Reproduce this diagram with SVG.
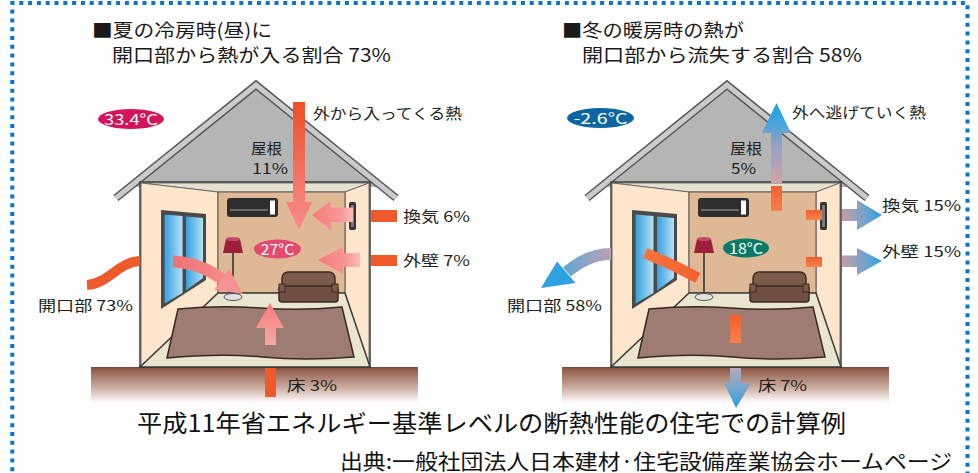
<svg xmlns="http://www.w3.org/2000/svg" width="978" height="473" viewBox="0 0 978 473">
<style>
  .lbl{font-family:"Noto Sans CJK JP","Noto Sans",sans-serif;font-size:14.5px;fill:#231f20;}
  .ttl{font-family:"Noto Sans CJK JP","Noto Sans",sans-serif;font-size:18.5px;fill:#1a1a1a;}
  .big{font-family:"Noto Sans CJK JP","Noto Sans",sans-serif;fill:#111;}
  .tmp{font-family:"Noto Sans CJK JP","Noto Sans",sans-serif;font-size:15px;fill:#fff;text-anchor:middle;}
  .out{fill:#ef5a2a;}
  .ln{stroke:#3a3a3a;stroke-width:1.5;}
</style>
<defs>
  <linearGradient id="ground" x1="0" y1="0" x2="0" y2="1">
    <stop offset="0" stop-color="#7c4535"/>
    <stop offset="0.08" stop-color="#93604e"/>
    <stop offset="0.55" stop-color="#c9a99c"/>
    <stop offset="1" stop-color="#ffffff"/>
  </linearGradient>
  <linearGradient id="glass" x1="0" y1="0" x2="1" y2="0">
    <stop offset="0" stop-color="#3a9edc"/>
    <stop offset="0.45" stop-color="#6dbde9"/>
    <stop offset="1" stop-color="#b4dff6"/>
  </linearGradient>
  <linearGradient id="gRoofIn" gradientUnits="userSpaceOnUse" x1="0" y1="102" x2="0" y2="230">
    <stop offset="0" stop-color="#ee5026"/>
    <stop offset="0.6" stop-color="#f37566"/>
    <stop offset="1" stop-color="#f68d8d"/>
  </linearGradient>
  <linearGradient id="gVentIn" gradientUnits="userSpaceOnUse" x1="312" y1="0" x2="356" y2="0">
    <stop offset="0" stop-color="#f47a7a"/>
    <stop offset="0.6" stop-color="#f69494"/>
    <stop offset="1" stop-color="#fac4ba"/>
  </linearGradient>
  <linearGradient id="gWallIn" gradientUnits="userSpaceOnUse" x1="318" y1="0" x2="362" y2="0">
    <stop offset="0" stop-color="#f47a7a"/>
    <stop offset="0.6" stop-color="#f69494"/>
    <stop offset="1" stop-color="#fac4ba"/>
  </linearGradient>
  <linearGradient id="gOpenIn" gradientUnits="userSpaceOnUse" x1="173" y1="0" x2="244" y2="0">
    <stop offset="0" stop-color="#f17272"/>
    <stop offset="1" stop-color="#f69595"/>
  </linearGradient>
  <linearGradient id="gFloorIn" gradientUnits="userSpaceOnUse" x1="0" y1="345" x2="0" y2="303">
    <stop offset="0" stop-color="#f8a8a2"/>
    <stop offset="1" stop-color="#f47c7c"/>
  </linearGradient>
  <linearGradient id="gOrange" x1="0" y1="0" x2="0" y2="1">
    <stop offset="0" stop-color="#f05f2c"/>
    <stop offset="1" stop-color="#f5824e"/>
  </linearGradient>
  <linearGradient id="gOrangeH" gradientUnits="userSpaceOnUse" x1="645" y1="0" x2="698" y2="0">
    <stop offset="0" stop-color="#f5763e"/>
    <stop offset="1" stop-color="#f0602c"/>
  </linearGradient>
  <linearGradient id="gBlueUp" gradientUnits="userSpaceOnUse" x1="0" y1="183" x2="0" y2="103">
    <stop offset="0" stop-color="#d4a2a8"/>
    <stop offset="0.5" stop-color="#8fa0c4"/>
    <stop offset="0.75" stop-color="#45a6de"/>
    <stop offset="1" stop-color="#1a9fe2"/>
  </linearGradient>
  <linearGradient id="gBlueR" gradientUnits="userSpaceOnUse" x1="842" y1="0" x2="882" y2="0">
    <stop offset="0" stop-color="#c29ea8"/>
    <stop offset="0.5" stop-color="#7fa2c8"/>
    <stop offset="1" stop-color="#2ea2e0"/>
  </linearGradient>
  <linearGradient id="gBlueL" gradientUnits="userSpaceOnUse" x1="611" y1="0" x2="541" y2="0">
    <stop offset="0" stop-color="#bba2b4"/>
    <stop offset="0.5" stop-color="#7aa6cc"/>
    <stop offset="1" stop-color="#24a2e2"/>
  </linearGradient>
  <linearGradient id="gBlueD" gradientUnits="userSpaceOnUse" x1="0" y1="368" x2="0" y2="408">
    <stop offset="0" stop-color="#b8a6b6"/>
    <stop offset="0.5" stop-color="#78a6cc"/>
    <stop offset="1" stop-color="#24a2e2"/>
  </linearGradient>

  <g id="house">
    <rect x="91" y="367" width="327" height="36" fill="url(#ground)"/>
    <polygon points="256,89 135,187 377,187" fill="#b5b5b5"/>
    <polyline points="116,198 256,85 396,198" fill="none" stroke="#555" stroke-width="8"/>
    <polyline points="116,198 256,85 396,198" fill="none" stroke="#cacaca" stroke-width="5"/>
    <rect x="140" y="182" width="230" height="185" fill="#fde6cb" class="ln"/>
    <polygon points="141,183 369,183 345,192 218,192" fill="#e5e1d1" stroke="#555" stroke-width="0.8"/>
    <polygon points="141,183 218,192 218,293 141,366" fill="#fde6cb" stroke="#555" stroke-width="0.8"/>
    <polygon points="369,183 345,192 345,293 369,366" fill="#fde6cb" stroke="#555" stroke-width="0.8"/>
    <rect x="218" y="192" width="127" height="101" fill="#dfb896" stroke="#555" stroke-width="1"/>
    <polygon points="218,293 345,293 370,367 140,367" fill="#e9e5cf" class="ln"/>
    <path d="M178,309 Q220,305 260,308 T342,307 L354,357 Q305,361 262,357 T167,358 Z" fill="#9d7d73" stroke="#3a2820" stroke-width="1.5"/>
    <polygon points="161,210 206,214 206,280 161,309" fill="#4a4a4a"/>
    <polygon points="164.5,214.5 182.5,216 182.5,293 164.5,303.5" fill="url(#glass)"/>
    <polygon points="186,216.5 203,218 203,278 186,290.5" fill="url(#glass)"/>
    <rect x="227" y="198" width="51" height="19" rx="3" fill="#2e2e2e"/>
    <rect x="230" y="209" width="38" height="2" fill="#6a6a6a"/>
    <rect x="270" y="200.5" width="5" height="14" fill="#ffffff"/>
    <rect x="349" y="202" width="7" height="28" rx="2" fill="#333"/>
    <rect x="351" y="205" width="3" height="22" fill="#777"/>
    <path d="M226,239 L240,239 L243,253 L223,253 Z" fill="#9e1f3c"/>
    <ellipse cx="233" cy="239" rx="7" ry="2" fill="#c24a66"/>
    <line x1="233" y1="253" x2="233" y2="296" stroke="#333" stroke-width="1.6"/>
    <ellipse cx="233" cy="297" rx="9" ry="3.5" fill="#e2e2e2" stroke="#555" stroke-width="1"/>
    <rect x="282" y="272" width="53" height="22" rx="6" fill="#7b5b4a" stroke="#3a2a22" stroke-width="1.5"/>
    <rect x="279" y="286" width="59" height="16" rx="3" fill="#6f5041" stroke="#3a2a22" stroke-width="1.5"/>
    <rect x="279" y="284" width="6" height="8" fill="#7b5b4a" stroke="#3a2a22" stroke-width="1"/>
    <rect x="332" y="284" width="6" height="8" fill="#7b5b4a" stroke="#3a2a22" stroke-width="1"/>
  </g>
</defs>

<rect width="978" height="473" fill="#ffffff"/>
<path d="M12.3,480 V3 H967.5 V480" fill="none" stroke="#0b74c8" stroke-width="4" stroke-dasharray="4 4.8"/>

<g id="title-summer">
  <text class="ttl" x="92" y="37" textLength="180" lengthAdjust="spacingAndGlyphs">■夏の冷房時(昼)に</text>
  <text class="ttl" x="112" y="62" textLength="279" lengthAdjust="spacingAndGlyphs">開口部から熱が入る割合 73%</text>
</g>
<g id="title-winter">
  <text class="ttl" x="562" y="37" textLength="182" lengthAdjust="spacingAndGlyphs">■冬の暖房時の熱が</text>
  <text class="ttl" x="582" y="62" textLength="280" lengthAdjust="spacingAndGlyphs">開口部から流失する割合 58%</text>
</g>

<g id="house-summer">
  <use href="#house"/>
  <ellipse cx="131" cy="119" rx="33" ry="10" fill="#d4145a"/>
  <text class="tmp" x="131" y="124.5" textLength="54" lengthAdjust="spacingAndGlyphs">33.4°C</text>
  <ellipse cx="277.5" cy="249" rx="23.5" ry="9.5" fill="#e24a6e"/>
  <text class="tmp" x="277.5" y="254.5" textLength="34" lengthAdjust="spacingAndGlyphs">27°C</text>
</g>

<g id="house-winter">
  <use href="#house" transform="translate(471,0)"/>
  <ellipse cx="600.5" cy="118" rx="33.5" ry="10" fill="#0b65a0"/>
  <text class="tmp" x="600.5" y="123.5" textLength="54" lengthAdjust="spacingAndGlyphs">-2.6°C</text>
  <ellipse cx="746" cy="248" rx="23" ry="9.5" fill="#0a7a68"/>
  <text class="tmp" x="746" y="253.5" textLength="34" lengthAdjust="spacingAndGlyphs">18°C</text>
</g>

<g id="connectors">
  <!-- summer: heat entering -->
  <path d="M293,102 H305 V202 H312 L299,230 L286,202 H293 Z" fill="url(#gRoofIn)"/>
  <rect class="out" x="371" y="210" width="26" height="12"/>
  <path d="M353,207.5 H331 V201 L312,215 L331,230 V222 H353 Z" fill="url(#gVentIn)"/>
  <rect class="out" x="371" y="255" width="26" height="11"/>
  <path d="M360,253 H343 V247 L318,260 L343,274 V267 H360 Z" fill="url(#gWallIn)"/>
  <path d="M87,285 C108,284 118,262 140,261" fill="none" stroke="#ef5a2a" stroke-width="10"/>
  <path d="M173,261.5 Q200,263 222,279" fill="none" stroke="url(#gOpenIn)" stroke-width="12"/>
  <polygon points="229,268.5 214.5,289.5 243,294" fill="#f59292"/>
  <rect class="out" x="265" y="368" width="11" height="29"/>
  <path d="M265,345 V328 H256 L270,303 L284,328 H276 V345 Z" fill="url(#gFloorIn)"/>

  <!-- winter: heat escaping -->
  <rect x="771" y="186" width="11" height="25" fill="url(#gOrange)"/>
  <path d="M771,183 V133 H762 L776.5,103 L791,133 H782 V183 Z" fill="url(#gBlueUp)"/>
  <rect x="806" y="210" width="16" height="10" fill="url(#gOrange)"/>
  <path d="M842,209 H857 V200 L882,215 L857,230 V221 H842 Z" fill="url(#gBlueR)"/>
  <rect x="806" y="257" width="16" height="10" fill="url(#gOrange)"/>
  <path d="M842,255.5 H857 V248 L882,261 L857,275 V267 H842 Z" fill="url(#gBlueR)"/>
  <path d="M645,253 Q672,264 698,278" fill="none" stroke="url(#gOrangeH)" stroke-width="11"/>
  <path d="M611,254 Q588,254 567,272" fill="none" stroke="url(#gBlueL)" stroke-width="12"/>
  <polygon points="557,261.5 575.5,283 541,288" fill="#2ca2e0"/>
  <rect x="730" y="315" width="11" height="28" fill="url(#gOrange)"/>
  <path d="M730,368 V383 H724 L736,408 L751,383 H741 V368 Z" fill="url(#gBlueD)"/>
</g>

<g id="labels">
  <text class="lbl" x="313" y="119" textLength="149" lengthAdjust="spacingAndGlyphs">外から入ってくる熱</text>
  <text class="lbl" x="251" y="154" textLength="31" lengthAdjust="spacingAndGlyphs">屋根</text>
  <text class="lbl" x="252" y="174" textLength="36" lengthAdjust="spacingAndGlyphs">11%</text>
  <text class="lbl" x="403" y="222" textLength="67" lengthAdjust="spacingAndGlyphs">換気 6%</text>
  <text class="lbl" x="403" y="266" textLength="67" lengthAdjust="spacingAndGlyphs">外壁 7%</text>
  <text class="lbl" x="38" y="311" textLength="95" lengthAdjust="spacingAndGlyphs">開口部 73%</text>
  <text class="lbl" x="287" y="391" textLength="50" lengthAdjust="spacingAndGlyphs">床 3%</text>

  <text class="lbl" x="792" y="118" textLength="134" lengthAdjust="spacingAndGlyphs">外へ逃げていく熱</text>
  <text class="lbl" x="730" y="154" textLength="32" lengthAdjust="spacingAndGlyphs">屋根</text>
  <text class="lbl" x="731" y="174" textLength="25" lengthAdjust="spacingAndGlyphs">5%</text>
  <text class="lbl" x="882" y="211" textLength="79" lengthAdjust="spacingAndGlyphs">換気 15%</text>
  <text class="lbl" x="882" y="257" textLength="79" lengthAdjust="spacingAndGlyphs">外壁 15%</text>
  <text class="lbl" x="507" y="311" textLength="95" lengthAdjust="spacingAndGlyphs">開口部 58%</text>
  <text class="lbl" x="758" y="391" textLength="49" lengthAdjust="spacingAndGlyphs">床 7%</text>
</g>

<g id="caption">
  <text class="big" x="137" y="432" font-size="24" textLength="709" lengthAdjust="spacingAndGlyphs">平成11年省エネルギー基準レベルの断熱性能の住宅での計算例</text>
  <text class="big" x="340" y="468.5" font-size="21" textLength="612" lengthAdjust="spacingAndGlyphs">出典:一般社団法人日本建材·住宅設備産業協会ホームページ</text>
</g>
</svg>
